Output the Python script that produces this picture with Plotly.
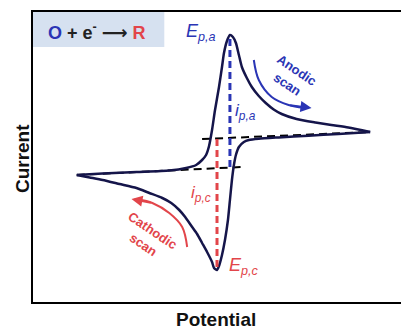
import plotly.graph_objects as go

# Forward (anodic) scan: potential vs current (arbitrary units)
fwd_potential = [44, 70, 104, 137, 154, 164, 170, 174, 177, 180, 183, 187, 190, 192, 195, 198,
                 201, 204, 207, 210, 215, 220, 227, 234, 242, 250, 265, 284, 300, 317, 339]
fwd_current = [-3, -1.5, 0, 1.5, 4, 7, 12, 17, 26, 42, 62, 85, 105, 119, 131, 137,
               135, 129, 117, 105, 94, 85, 76, 69, 62.5, 58, 53, 49.5, 47, 44.5, 40]
# Reverse (cathodic) scan
rev_potential = [339, 307, 277, 247, 227, 217, 212, 207, 204, 202, 200, 198, 196, 193, 190, 187,
                 185, 182, 180, 175, 170, 165, 160, 153, 147, 139, 130, 117, 104, 87, 70, 57, 44]
rev_current = [40, 38, 36.3, 34.6, 33.3, 32, 30, 25, 17, 7, -8, -28, -48, -68, -83, -94,
               -98, -96, -90, -80, -71, -62, -55, -45, -38, -31, -26, -21, -16, -12, -8, -5.5, -3]

# Baselines (dashed extrapolations)
base_upper_x = [170, 339]
base_upper_y = [33, 40]
base_lower_x = [44, 210]
base_lower_y = [-3, 5]

# Peak markers
E_pa = 198
i_pa = [5, 137]
E_pc = 185
i_pc = [33, -98]

# Scan direction arcs
anodic_arc_x = [222, 227, 240, 257, 272]
anodic_arc_y = [112, 92, 75, 67, 64.3]
cathodic_arc_x = [155, 150, 137, 120, 106]
cathodic_arc_y = [-75, -55, -41, -31, -27.3]

NAVY = "#15154a"
BLUE = "#2a35b5"
RED = "#e2454a"
FONT = "Liberation Sans, Arial, DejaVu Sans, sans-serif"

fig = go.Figure()

fig.add_trace(go.Scatter(x=base_upper_x, y=base_upper_y, mode="lines",
                         line=dict(color="black", width=2, dash="8px,5px"), hoverinfo="skip"))
fig.add_trace(go.Scatter(x=base_lower_x, y=base_lower_y, mode="lines",
                         line=dict(color="black", width=2, dash="8px,5px"), hoverinfo="skip"))
fig.add_trace(go.Scatter(x=fwd_potential, y=fwd_current, mode="lines",
                         line=dict(color=NAVY, width=2.5, shape="spline", smoothing=0.6), hoverinfo="skip"))
fig.add_trace(go.Scatter(x=rev_potential, y=rev_current, mode="lines",
                         line=dict(color=NAVY, width=2.5, shape="spline", smoothing=0.6), hoverinfo="skip"))
fig.add_trace(go.Scatter(x=[E_pa, E_pa], y=i_pa, mode="lines",
                         line=dict(color=BLUE, width=3, dash="7px,4px"), hoverinfo="skip"))
fig.add_trace(go.Scatter(x=[E_pc, E_pc], y=i_pc, mode="lines",
                         line=dict(color=RED, width=3, dash="7px,4px"), hoverinfo="skip"))
fig.add_trace(go.Scatter(x=anodic_arc_x, y=anodic_arc_y, mode="lines",
                         line=dict(color=BLUE, width=2, shape="spline"), hoverinfo="skip"))
fig.add_trace(go.Scatter(x=cathodic_arc_x, y=cathodic_arc_y, mode="lines",
                         line=dict(color=RED, width=2, shape="spline"), hoverinfo="skip"))

C = dict(xanchor="center", yanchor="middle", showarrow=False)
annotations = [
    # arrowheads
    dict(x=280, y=64, ax=anodic_arc_x[-2], ay=anodic_arc_y[-2], xref="x", yref="y", axref="x", ayref="y",
         showarrow=True, arrowhead=2, arrowsize=1.1, arrowwidth=2, arrowcolor=BLUE, text=""),
    dict(x=99, y=-27, ax=cathodic_arc_x[-2], ay=cathodic_arc_y[-2], xref="x", yref="y", axref="x", ayref="y",
         showarrow=True, arrowhead=2, arrowsize=1.1, arrowwidth=2, arrowcolor=RED, text=""),
    # labels
    dict(x=169, y=140, xref="x", yref="y", **C,
         text="<i>E<sub>p,a</sub></i>", font=dict(family=FONT, size=18, color=BLUE)),
    dict(x=212, y=-94, xref="x", yref="y", **C,
         text="<i>E<sub>p,c</sub></i>", font=dict(family=FONT, size=18, color=RED)),
    dict(x=214, y=60, xref="x", yref="y", **C,
         text="<i>i<sub>p,a</sub></i>", font=dict(family=FONT, size=17, color=BLUE)),
    dict(x=169, y=-22, xref="x", yref="y", **C,
         text="<i>i<sub>p,c</sub></i>", font=dict(family=FONT, size=17, color=RED)),
    dict(x=260, y=95, xref="x", yref="y", **C, textangle=34,
         text="<b>Anodic<br>scan</b>", font=dict(family=FONT, size=13, color=BLUE)),
    dict(x=116, y=-66, xref="x", yref="y", **C, textangle=34,
         text="<b>Cathodic<br>scan</b>", font=dict(family=FONT, size=13, color=RED)),
    # reaction box text
    dict(x=64, y=141, xref="x", yref="y", **C,
         text=f"<b><span style='color:{BLUE}'>O</span> + e<sup>-</sup> ⟶ <span style='color:{RED}'>R</span></b>",
         font=dict(family=FONT, size=18, color="#222222")),
    # axis titles
    dict(x=(22 - 33) / 375, y=(302 - 159) / 290, xref="paper", yref="paper", **C, textangle=-90,
         text="<b>Current</b>", font=dict(family=FONT, size=19, color="#111111")),
    dict(x=(217 - 33) / 375, y=(302 - 319) / 290, xref="paper", yref="paper", **C,
         text="<b>Potential</b>", font=dict(family=FONT, size=19, color="#111111")),
]

# The page body has an 8px default margin, so the figure is sized to fit the window.
fig.update_layout(
    width=401, height=321,
    margin=dict(l=25, r=1, t=4, b=27),
    paper_bgcolor="white", plot_bgcolor="white",
    showlegend=False,
    xaxis=dict(range=[0, 375], showgrid=False, zeroline=False, showticklabels=False, ticks="",
               showline=True, mirror=True, linecolor="black", linewidth=2),
    yaxis=dict(range=[-130, 160], showgrid=False, zeroline=False, showticklabels=False, ticks="",
               showline=True, mirror=True, linecolor="black", linewidth=2),
    shapes=[dict(type="rect", xref="x", yref="y", x0=0, x1=132, y0=125, y1=160,
                 fillcolor="#d6e1f0", line=dict(width=0), layer="below")],
    annotations=annotations,
)

fig.write_html("out.html")
